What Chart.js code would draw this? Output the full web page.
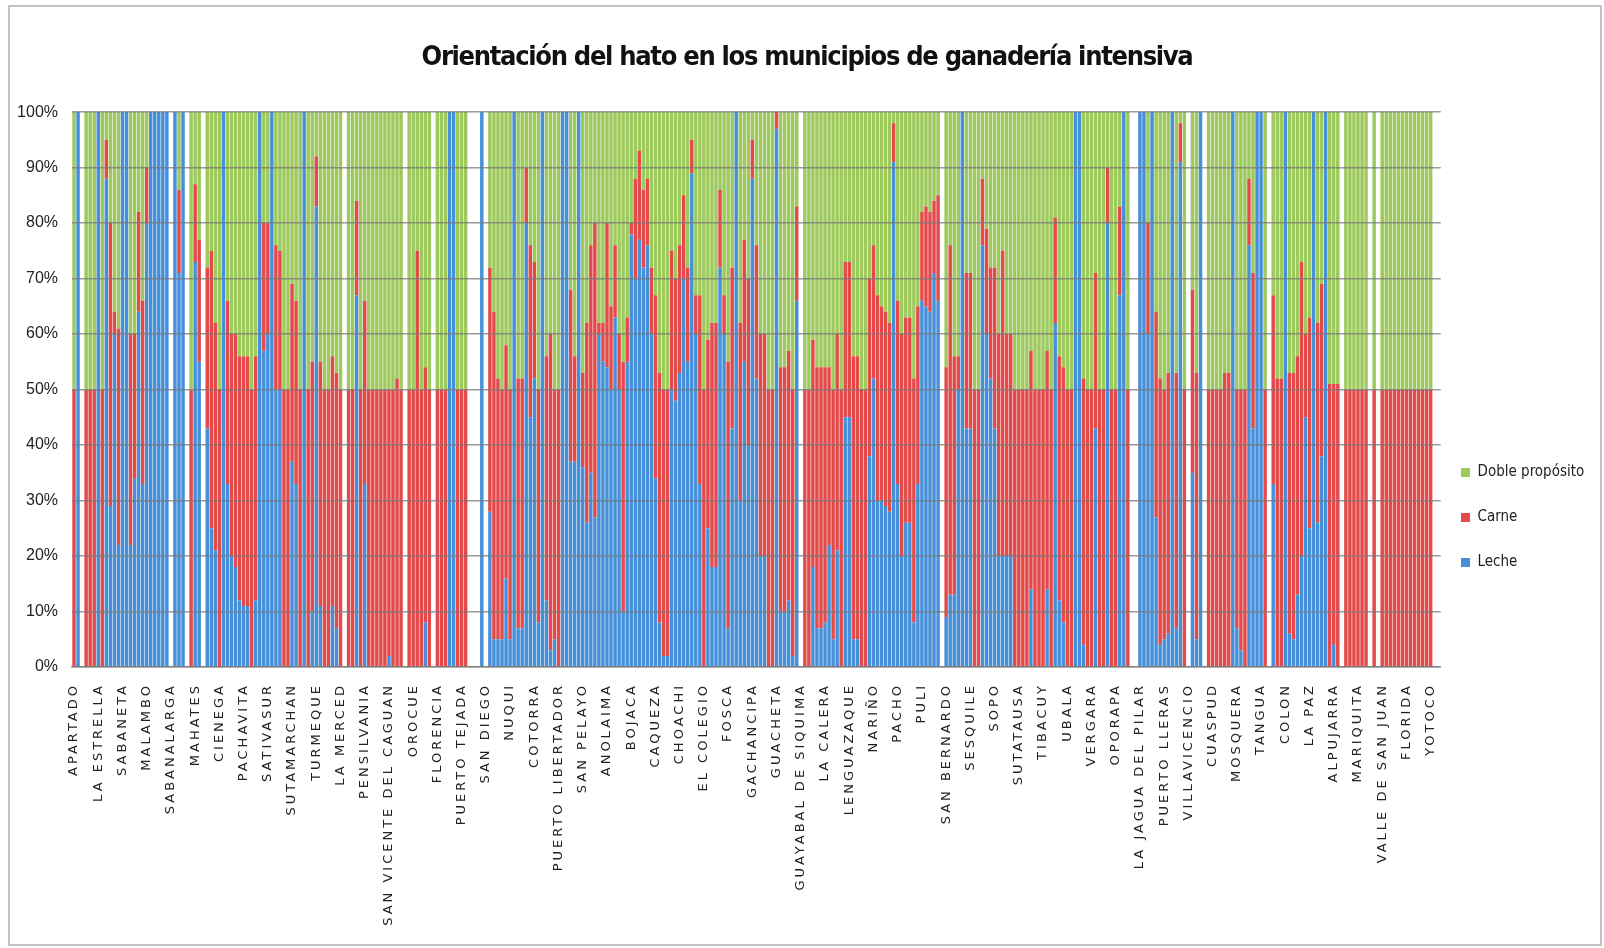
<!DOCTYPE html>
<html><head><meta charset="utf-8">
<script src="https://cdn.jsdelivr.net/npm/chart.js@4.4.1/dist/chart.umd.min.js"></script>
<style>
html,body{margin:0;padding:0;background:#fff;}
#wrap{position:relative;width:1604px;height:948px;overflow:hidden;}
#frame{position:absolute;left:8px;top:5px;width:1594px;height:941px;border:2px solid #c2c2c2;box-sizing:border-box;pointer-events:none;}
canvas{position:absolute;left:0;top:0;}
</style></head><body>
<div id="wrap"><div id="frame"></div><canvas id="c" width="1604" height="948"></canvas></div>
<script>
const titulo = 'Orientación del hato en los municipios de ganadería intensiva';
const municipiosRotulados = ['APARTADO','LA ESTRELLA','SABANETA','MALAMBO','SABANALARGA','MAHATES','CIENEGA','PACHAVITA','SATIVASUR','SUTAMARCHAN','TURMEQUE','LA MERCED','PENSILVANIA','SAN VICENTE DEL CAGUAN','OROCUE','FLORENCIA','PUERTO TEJADA','SAN DIEGO','NUQUI','COTORRA','PUERTO LIBERTADOR','SAN PELAYO','ANOLAIMA','BOJACA','CAQUEZA','CHOACHI','EL COLEGIO','FOSCA','GACHANCIPA','GUACHETA','GUAYABAL DE SIQUIMA','LA CALERA','LENGUAZAQUE','NARIÑO','PACHO','PULI','SAN BERNARDO','SESQUILE','SOPO','SUTATAUSA','TIBACUY','UBALA','VERGARA','OPORAPA','LA JAGUA DEL PILAR','PUERTO LLERAS','VILLAVICENCIO','CUASPUD','MOSQUERA','TANGUA','COLON','LA PAZ','ALPUJARRA','MARIQUITA','VALLE DE SAN JUAN','FLORIDA','YOTOCO'];
const pasoRotulo = 6;
const totalMunicipios = 339;
const nombresSeries = ['Leche','Carne','Doble propósito'];
const yTicksPct = [0,10,20,30,40,50,60,70,80,90,100];

const leche = [
0,100,0,0,0,0,100,0,88,29,
60,22,100,100,22,34,64,33,80,100,
100,100,100,100,0,100,71,100,0,0,
73,55,0,43,25,21,0,100,33,20,
18,12,11,11,0,12,100,57,60,100,
50,50,0,0,37,33,0,100,0,10,
83,11,0,0,11,7,0,0,0,0,
67,0,33,0,0,0,0,0,2,0,
0,0,0,0,0,0,0,8,0,0,
0,0,0,100,100,0,0,0,0,0,
0,100,0,28,5,5,5,16,5,100,
7,7,80,45,52,8,100,12,3,5,
0,100,100,37,37,100,36,26,35,27,
60,55,54,50,63,50,10,55,78,70,
77,72,76,60,34,8,2,2,50,48,
53,70,55,89,60,33,0,25,18,18,
72,60,7,43,100,30,55,40,88,52,
20,20,0,0,97,10,10,12,2,66,
0,0,0,18,7,7,8,22,5,21,
0,45,45,5,5,0,0,38,52,30,
30,29,28,91,33,20,26,26,8,33,
66,65,64,71,66,0,9,13,13,50,
100,43,43,0,0,76,60,52,43,20,
20,20,20,0,0,0,0,14,0,0,
0,14,0,62,12,8,0,0,100,100,
4,0,0,43,0,0,80,0,0,67,
100,0,0,0,100,100,60,100,27,4,
5,6,100,7,91,0,0,35,5,100,
0,0,0,0,0,0,0,100,7,3,
0,76,43,100,100,0,0,33,0,0,
100,6,5,13,20,45,25,100,26,38,
100,0,4,0,0,0,0,0,0,0,
0,0,0,0,0,0,0,0,0,0,
0,0,0,0,0,0,0,0,0];

const carne = [
50,0,0,50,50,50,0,50,7,51,
4,39,0,0,38,26,18,33,10,0,
0,0,0,0,0,0,15,0,0,50,
14,22,0,29,50,41,50,0,33,40,
42,44,45,45,50,44,0,23,20,0,
26,25,50,50,32,33,50,0,50,45,
9,44,50,50,45,46,50,0,50,50,
17,50,33,50,50,50,50,50,48,50,
52,50,0,50,50,75,50,46,50,0,
50,50,50,0,0,50,50,50,0,0,
0,0,0,44,59,47,45,42,45,0,
45,45,10,31,21,42,0,44,57,45,
50,0,0,31,19,0,17,36,41,53,
2,7,26,15,13,10,45,8,2,18,
16,14,12,12,33,45,48,48,25,22,
23,15,17,6,7,34,50,34,44,44,
14,7,48,29,0,32,22,30,7,24,
40,40,50,50,3,44,44,45,48,17,
0,50,50,41,47,47,46,32,45,39,
50,28,28,51,51,50,50,32,24,37,
35,35,34,7,33,40,37,37,44,32,
16,18,18,13,19,0,45,63,43,6,
0,28,28,50,50,12,19,20,29,40,
55,40,40,50,50,50,50,43,50,50,
50,43,50,19,44,46,50,50,0,0,
48,50,50,28,50,50,10,50,50,16,
0,50,0,0,0,0,20,0,37,48,
45,47,0,46,7,50,0,33,48,0,
0,50,50,50,50,53,53,0,43,47,
50,12,28,0,0,50,0,34,52,52,
0,47,48,43,53,15,38,0,36,31,
0,51,47,51,0,50,50,50,50,50,
50,0,50,0,50,50,50,50,50,50,
50,50,50,50,50,50,50,0,0];

const doble = [
50,0,0,50,50,50,0,50,5,20,
36,39,0,0,40,40,18,34,10,0,
0,0,0,0,0,0,14,0,0,50,
13,23,0,28,25,38,50,0,34,40,
40,44,44,44,50,44,0,20,20,0,
24,25,50,50,31,34,50,0,50,45,
8,45,50,50,44,47,50,0,50,50,
16,50,34,50,50,50,50,50,50,50,
48,50,0,50,50,25,50,46,50,0,
50,50,50,0,0,50,50,50,0,0,
0,0,0,28,36,48,50,42,50,0,
48,48,10,24,27,50,0,44,40,50,
50,0,0,32,44,0,47,38,24,20,
38,38,20,35,24,40,45,37,20,12,
7,14,12,28,33,47,50,50,25,30,
24,15,28,5,33,33,50,41,38,38,
14,33,45,28,0,38,23,30,5,24,
40,40,50,50,0,46,46,43,50,17,
0,50,50,41,46,46,46,46,50,40,
50,27,27,44,44,50,50,30,24,33,
35,36,38,2,34,40,37,37,48,35,
18,17,18,16,15,0,46,24,44,44,
0,29,29,50,50,12,21,28,28,40,
25,40,40,50,50,50,50,43,50,50,
50,43,50,19,44,46,50,50,0,0,
48,50,50,29,50,50,10,50,50,17,
0,50,0,0,0,0,20,0,36,48,
50,47,0,47,2,50,0,32,47,0,
0,50,50,50,50,47,47,0,50,50,
50,12,29,0,0,50,0,33,48,48,
0,47,47,44,27,40,37,0,38,31,
0,49,49,49,0,50,50,50,50,50,
50,0,50,0,50,50,50,50,50,50,
50,50,50,50,50,50,50,0,0];

const categorias = [];
for (let i = 0; i < totalMunicipios; i++) {
  const k = i / pasoRotulo;
  categorias.push(Number.isInteger(k) && municipiosRotulados[k] ? municipiosRotulados[k] : '');
}

// wider letter spacing for the rotated category labels
const CategoryScale = Chart.registry.getScale('category');
const baseDrawLabels = CategoryScale.prototype.drawLabels;
CategoryScale.prototype.drawLabels = function (area) {
  const ctx = this.ctx;
  ctx.save();
  ctx.letterSpacing = '3px';
  baseDrawLabels.call(this, area);
  ctx.restore();
};

// tighter letter spacing for the title (condensed look)
const TitleEl = Chart.Title && Chart.Title._element;
if (TitleEl && TitleEl.prototype.draw) {
  const baseTitleDraw = TitleEl.prototype.draw;
  TitleEl.prototype.draw = function () {
    const ctx = this.ctx;
    ctx.save();
    ctx.letterSpacing = '-1.3px';
    baseTitleDraw.call(this);
    ctx.restore();
  };
}

const legendPos = {
  id: 'legendPos',
  afterLayout(chart) {
    const lg = chart.legend;
    if (!lg) return;
    const w = lg.width;
    lg.left = 1431; lg.right = lg.left + w;
    lg.top = 435; lg.bottom = lg.top + 230;
  }
};

const narrow = "'Liberation Sans Narrow', 'DejaVu Sans Condensed', 'Liberation Sans', sans-serif";

new Chart(document.getElementById('c'), {
  type: 'bar',
  data: {
    labels: categorias,
    datasets: [
      { label: nombresSeries[0], data: leche, backgroundColor: '#4690da' },
      { label: nombresSeries[1], data: carne, backgroundColor: '#e44a4a' },
      { label: nombresSeries[2], data: doble, backgroundColor: '#9dc95d' }
    ]
  },
  options: {
    responsive: false,
    animation: false,
    datasets: { bar: { barPercentage: 0.86, categoryPercentage: 1.0, borderWidth: 0 } },
    layout: { padding: { left: 10, right: 0, top: 0, bottom: 0 } },
    plugins: {
      title: {
        display: true, text: titulo, color: '#111',
        font: { family: narrow, size: 27, weight: 'bold', lineHeight: 1.3 },
        padding: { top: 40, bottom: 37 }
      },
      legend: {
        position: 'right', align: 'start', reverse: true, maxWidth: 176,
        labels: { boxWidth: 9, boxHeight: 9, padding: 30, color: '#222', font: { family: narrow, size: 15 } }
      },
      tooltip: { enabled: false }
    },
    scales: {
      x: {
        stacked: true,
        grid: { display: false },
        border: { display: true, color: '#9a9a9a', width: 1.5 },
        ticks: { autoSkip: false, minRotation: 90, maxRotation: 90, padding: 8, color: '#222',
                 font: { family: "'DejaVu Sans', sans-serif", size: 13 } },
        afterFit(s) { s.height = 281; }
      },
      y: {
        stacked: true, min: 0, max: 100,
        afterBuildTicks(s) { s.ticks = yTicksPct.map(v => ({ value: v })); },
        ticks: { callback: v => v + '%', padding: 14, color: '#222',
                 font: { family: "'Liberation Sans', sans-serif", size: 16 } },
        grid: { color: 'rgba(120,120,120,0.75)', lineWidth: 1.6, drawTicks: false, z: 1 },
        border: { display: false },
        afterFit(s) { s.width = 62; }
      }
    }
  },
  plugins: [legendPos]
});
</script>
</body></html>
